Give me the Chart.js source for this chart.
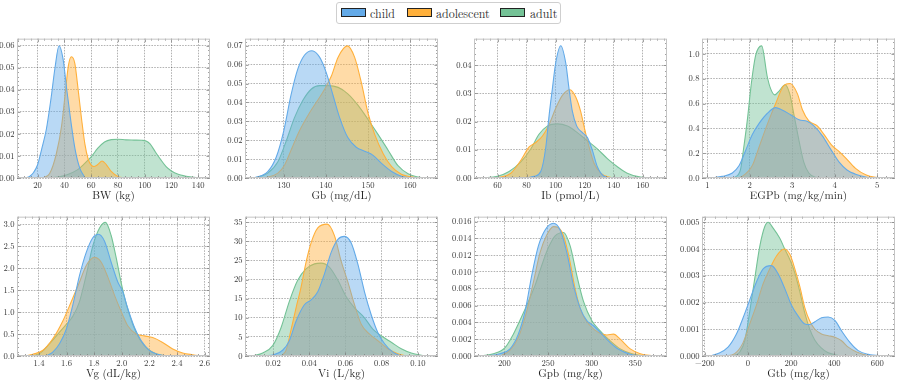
<!DOCTYPE html>
<html><head><meta charset="utf-8">
<script src="https://cdn.jsdelivr.net/npm/chart.js@4"></script>
<style>
html,body{margin:0;padding:0;background:#fff;}
body{width:897px;height:380px;overflow:hidden;position:relative;font-family:"Latin Modern Roman","Liberation Serif",serif;}
canvas{position:absolute;}
#legend{position:absolute;left:336px;top:2px;width:223px;height:20px;border:1px solid #cfcfcf;border-radius:3px;background:#fff;}
.patch{position:absolute;top:5px;width:23px;height:7px;border:1.3px solid #222;}
.lab{position:absolute;top:2px;font-size:12px;line-height:15px;color:#333;}
</style></head><body>
<div id="legend"></div>
<script>
// ---------- groups ----------
const GROUPS = ['child', 'adolescent', 'adult'];

// ---------- BW (kg) ----------
const BW_x_child = [11, 14, 17, 20, 23, 26.5, 30, 33, 36, 39, 42, 45, 48, 51.5, 55];
const BW_y_child = [0, 0.0007, 0.0025, 0.006, 0.013, 0.022, 0.036, 0.050, 0.060, 0.054, 0.039, 0.025, 0.013, 0.0045, 0.0006];
const BW_x_adol = [24, 29, 34, 38, 40.5, 43, 45.3, 47.8, 50.3, 52.8, 55.3, 57.8, 60, 62, 64.7, 68.2, 71.4, 75, 80, 85];
const BW_y_adol = [0, 0.002, 0.011, 0.024, 0.0375, 0.051, 0.055, 0.052, 0.040, 0.027, 0.0155, 0.0085, 0.0058, 0.0052, 0.006, 0.0077, 0.006, 0.003, 0.0007, 0];
const BW_x_adult = [27, 35, 42, 50, 55, 60, 65, 70, 75, 80, 86, 92, 98, 101, 104, 108, 112, 116, 120, 125, 130, 135, 142];
const BW_y_adult = [0, 0.0004, 0.0015, 0.0038, 0.0065, 0.0096, 0.0135, 0.0163, 0.0174, 0.0176, 0.0173, 0.0172, 0.0171, 0.0168, 0.0155, 0.0118, 0.0083, 0.0052, 0.0032, 0.0017, 0.0009, 0.0004, 0];
const BW_xticks = [20, 40, 60, 80, 100, 120, 140];
const BW_xlabels = ['20', '40', '60', '80', '100', '120', '140'];
const BW_yticks = [0, 0.01, 0.02, 0.03, 0.04, 0.05, 0.06];
const BW_ylabels = ['0.00', '0.01', '0.02', '0.03', '0.04', '0.05', '0.06'];

// ---------- Gb (mg/dL) ----------
const Gb_x_child = [122.9, 126.2, 128.2, 130, 131.7, 133.3, 134.9, 136.7, 138.5, 140.1, 141.7, 143.3, 145.2, 147.2, 149.2, 151.2, 153.2, 155.6, 157.9, 160.3];
const Gb_y_child = [0, 0.0034, 0.011, 0.025, 0.0437, 0.0575, 0.065, 0.0674, 0.064, 0.0557, 0.0437, 0.0317, 0.0214, 0.0163, 0.0142, 0.012, 0.0077, 0.0034, 0.0009, 0];
const Gb_x_adol = [125.4, 128.6, 130.2, 131.7, 133.7, 135.7, 137.7, 139.7, 141.3, 142.9, 145.1, 146.8, 148.4, 150, 151.6, 153.6, 155.6, 157.9, 161.1, 163.1];
const Gb_y_adol = [0, 0.0026, 0.0069, 0.0146, 0.0249, 0.033, 0.040, 0.047, 0.054, 0.064, 0.070, 0.064, 0.0506, 0.0343, 0.023, 0.0129, 0.006, 0.002, 0.0003, 0];
const Gb_x_adult = [123, 126.2, 128.6, 130.6, 132.5, 134.5, 136.5, 138.5, 140.5, 142.9, 145.2, 147.6, 150, 152.4, 154.8, 157.1, 159.5, 161.9, 164.3];
const Gb_y_adult = [0, 0.0026, 0.0086, 0.0197, 0.0317, 0.041, 0.047, 0.0489, 0.0489, 0.048, 0.0446, 0.0386, 0.031, 0.023, 0.0146, 0.0065, 0.0022, 0.0005, 0];
const Gb_xticks = [130, 140, 150, 160];
const Gb_xlabels = ['130', '140', '150', '160'];
const Gb_yticks = [0, 0.01, 0.02, 0.03, 0.04, 0.05, 0.06, 0.07];
const Gb_ylabels = ['0.00', '0.01', '0.02', '0.03', '0.04', '0.05', '0.06', '0.07'];

// ---------- Ib (pmol/L) ----------
const Ib_x_child = [79.5, 85.2, 89.8, 93.3, 95.6, 97.8, 100.1, 103.6, 107, 109.3, 111.6, 114.6, 118.5, 121.9, 125.4, 128.8, 133.4, 138];
const Ib_y_child = [0, 0.0006, 0.0023, 0.011, 0.0224, 0.0316, 0.0408, 0.0469, 0.0408, 0.0316, 0.0236, 0.0184, 0.0161, 0.0144, 0.0098, 0.004, 0.0006, 0];
const Ib_x_adol = [60, 69.2, 76.1, 81.8, 86.4, 91, 95.6, 100.1, 104.7, 110, 113.9, 117.3, 119.6, 123.1, 126.5, 131.1, 136.8, 142.6];
const Ib_y_adol = [0, 0.0017, 0.0063, 0.011, 0.0126, 0.0149, 0.019, 0.0247, 0.0293, 0.0313, 0.0287, 0.0236, 0.0184, 0.011, 0.0052, 0.0017, 0.0003, 0];
const Ib_x_adult = [49.7, 60, 68, 76.1, 82.9, 88.6, 94.3, 101.3, 108.2, 115, 121.9, 128.8, 135.7, 142.6, 149.4, 158.6, 170];
const Ib_y_adult = [0, 0.0006, 0.0023, 0.0057, 0.0103, 0.0155, 0.0184, 0.0192, 0.0184, 0.0161, 0.0132, 0.0103, 0.0069, 0.004, 0.0017, 0.0003, 0];
const Ib_xticks = [60, 80, 100, 120, 140, 160];
const Ib_xlabels = ['60', '80', '100', '120', '140', '160'];
const Ib_yticks = [0, 0.01, 0.02, 0.03, 0.04];
const Ib_ylabels = ['0.00', '0.01', '0.02', '0.03', '0.04'];

// ---------- EGPb (mg/kg/min) ----------
const EGPb_x_child = [1.08, 1.35, 1.59, 1.75, 1.9, 2.06, 2.22, 2.41, 2.61, 2.76, 2.96, 3.16, 3.35, 3.51, 3.71, 3.9, 4.1, 4.29, 4.49, 4.73, 4.96];
const EGPb_y_child = [0, 0.013, 0.04, 0.1, 0.22, 0.35, 0.44, 0.52, 0.567, 0.548, 0.51, 0.47, 0.457, 0.42, 0.34, 0.235, 0.13, 0.065, 0.031, 0.008, 0];
const EGPb_x_adol = [1.65, 1.82, 2.06, 2.22, 2.41, 2.61, 2.8, 2.95, 3.12, 3.24, 3.39, 3.59, 3.75, 3.94, 4.1, 4.25, 4.49, 4.73, 4.96, 5.15];
const EGPb_y_adol = [0, 0.013, 0.1, 0.25, 0.43, 0.6, 0.744, 0.762, 0.68, 0.55, 0.46, 0.42, 0.35, 0.26, 0.215, 0.165, 0.078, 0.026, 0.005, 0];
const EGPb_x_adult = [1.63, 1.78, 1.86, 1.94, 2.04, 2.14, 2.28, 2.41, 2.49, 2.59, 2.70, 2.83, 2.94, 3.04, 3.16, 3.27, 3.39, 3.55, 3.7];
const EGPb_y_adult = [0, 0.065, 0.25, 0.46, 0.77, 0.99, 1.065, 0.82, 0.72, 0.67, 0.705, 0.752, 0.68, 0.51, 0.30, 0.13, 0.04, 0.005, 0];
const EGPb_xticks = [1, 2, 3, 4, 5];
const EGPb_xlabels = ['1', '2', '3', '4', '5'];
const EGPb_yticks = [0, 0.2, 0.4, 0.6, 0.8, 1.0];
const EGPb_ylabels = ['0.0', '0.2', '0.4', '0.6', '0.8', '1.0'];

// ---------- Vg (dL/kg) ----------
const Vg_x_child = [1.453, 1.5, 1.549, 1.598, 1.646, 1.694, 1.742, 1.79, 1.831, 1.875, 1.923, 1.971, 2.007, 2.043, 2.092, 2.14, 2.2, 2.26, 2.32];
const Vg_y_child = [0, 0.09, 0.28, 0.61, 1.17, 1.84, 2.36, 2.7, 2.78, 2.62, 2.14, 1.69, 1.47, 1.09, 0.65, 0.35, 0.13, 0.04, 0];
const Vg_x_adol = [1.296, 1.357, 1.429, 1.5, 1.573, 1.634, 1.694, 1.742, 1.802, 1.851, 1.899, 1.947, 1.995, 2.043, 2.104, 2.164, 2.224, 2.296, 2.369, 2.441, 2.513, 2.586];
const Vg_y_adol = [0, 0.04, 0.13, 0.39, 0.8, 1.24, 1.69, 2.06, 2.25, 2.14, 1.8, 1.39, 1.02, 0.69, 0.5, 0.46, 0.42, 0.31, 0.16, 0.07, 0.03, 0];
const Vg_x_adult = [1.31, 1.4, 1.477, 1.537, 1.598, 1.646, 1.694, 1.742, 1.79, 1.839, 1.882, 1.923, 1.959, 1.995, 2.031, 2.08, 2.128, 2.188, 2.248, 2.32];
const Vg_y_adult = [0, 0.05, 0.28, 0.5, 0.72, 0.91, 1.24, 1.84, 2.51, 2.92, 3.05, 2.75, 2.25, 1.68, 1.2, 0.72, 0.39, 0.16, 0.05, 0];
const Vg_xticks = [1.4, 1.6, 1.8, 2.0, 2.2, 2.4, 2.6];
const Vg_xlabels = ['1.4', '1.6', '1.8', '2.0', '2.2', '2.4', '2.6'];
const Vg_yticks = [0, 0.5, 1.0, 1.5, 2.0, 2.5, 3.0];
const Vg_ylabels = ['0.0', '0.5', '1.0', '1.5', '2.0', '2.5', '3.0'];

// ---------- Vi (L/kg) ----------
const Vi_x_child = [0.0152, 0.0207, 0.0253, 0.029, 0.0327, 0.0373, 0.041, 0.0447, 0.0484, 0.0521, 0.0558, 0.0594, 0.0631, 0.0668, 0.0705, 0.0742, 0.0779, 0.0816, 0.0862, 0.0908];
const Vi_y_child = [0, 0.4, 1.5, 4, 9.1, 13.4, 14.7, 16.8, 21.5, 27.1, 30.5, 31.3, 29.6, 24.1, 16.8, 10.8, 6.1, 3.2, 1.0, 0];
const Vi_x_adol = [0.0244, 0.0272, 0.03, 0.0327, 0.0355, 0.0382, 0.041, 0.0447, 0.0499, 0.0539, 0.0576, 0.0613, 0.065, 0.0687, 0.0733, 0.0779, 0.0834, 0.0889, 0.0935];
const Vi_y_adol = [0, 1.5, 7.0, 12.6, 18.1, 24.5, 29.6, 33.5, 34.5, 31.5, 24.8, 19.4, 13.4, 8.3, 5.7, 4.0, 1.9, 0.6, 0];
const Vi_x_adult = [0.0088, 0.0143, 0.0198, 0.0244, 0.029, 0.0336, 0.0382, 0.0429, 0.0465, 0.0512, 0.0558, 0.0604, 0.065, 0.0705, 0.0751, 0.0797, 0.0853, 0.0908, 0.0963, 0.1037];
const Vi_y_adult = [0, 0.8, 2.7, 7.4, 14.3, 19.8, 22.8, 24.1, 24.3, 23.2, 19.8, 15.5, 12.6, 10, 7.0, 5.3, 3.6, 1.9, 0.8, 0];
const Vi_xticks = [0.02, 0.04, 0.06, 0.08, 0.10];
const Vi_xlabels = ['0.02', '0.04', '0.06', '0.08', '0.10'];
const Vi_yticks = [0, 5, 10, 15, 20, 25, 30, 35];
const Vi_ylabels = ['0', '5', '10', '15', '20', '25', '30', '35'];

// ---------- Gpb (mg/kg) ----------
const Gpb_x_child = [177.8, 195, 206.5, 216, 223.7, 231.4, 239, 246.7, 256.3, 263.9, 271.6, 279.2, 286.9, 294.5, 302.2, 311.7, 321.3, 330.9, 344.3, 355.8];
const Gpb_y_child = [0, 0.00027, 0.00085, 0.0026, 0.0053, 0.0096, 0.0131, 0.015, 0.0158, 0.015, 0.0123, 0.0084, 0.0057, 0.0042, 0.0036, 0.0026, 0.0016, 0.0008, 0.0002, 0];
const Gpb_x_adol = [195, 206.5, 216, 225.6, 233.3, 240.9, 248.6, 256.3, 265.8, 273.5, 281.1, 288.8, 298.4, 307.9, 317.5, 325.1, 332.8, 344.3, 355.8, 371];
const Gpb_y_adol = [0, 0.0007, 0.0022, 0.0053, 0.0088, 0.0123, 0.0144, 0.0154, 0.0148, 0.0121, 0.008, 0.0051, 0.0036, 0.0028, 0.0025, 0.0026, 0.002, 0.00085, 0.00027, 0];
const Gpb_x_adult = [174, 187.4, 200.8, 210.3, 219.9, 227.6, 235.2, 242.9, 250.5, 258.2, 267.7, 275.4, 283, 290.7, 300.3, 309.8, 321.3, 332.8, 346.2, 359.6];
const Gpb_y_adult = [0, 0.00027, 0.001, 0.0026, 0.0047, 0.0065, 0.0084, 0.0108, 0.0129, 0.0143, 0.0147, 0.0131, 0.0096, 0.0065, 0.0042, 0.003, 0.0018, 0.00085, 0.00027, 0];
const Gpb_xticks = [200, 250, 300, 350];
const Gpb_xlabels = ['200', '250', '300', '350'];
const Gpb_yticks = [0, 0.002, 0.004, 0.006, 0.008, 0.010, 0.012, 0.014, 0.016];
const Gpb_ylabels = ['0.000', '0.002', '0.004', '0.006', '0.008', '0.010', '0.012', '0.014', '0.016'];

// ---------- Gtb (mg/kg) ----------
const Gtb_x_child = [-176.8, -138, -91.7, -53, -22, 8.9, 39.8, 70.8, 109.5, 140.4, 171.3, 202.3, 233.2, 264.2, 287.4, 310.6, 341.5, 372.5, 403.4, 434.4, 473, 511.7, 558.2, 635.5];
const Gtb_y_child = [0, 0.00009, 0.00033, 0.00082, 0.00143, 0.0021, 0.00277, 0.00326, 0.00338, 0.00307, 0.00252, 0.0019, 0.00149, 0.0012, 0.00118, 0.00128, 0.00143, 0.00146, 0.00133, 0.00094, 0.00051, 0.0002, 0.00006, 0];
const Gtb_x_adol = [-107, -60.7, -22, 8.9, 39.8, 70.8, 101.7, 132.7, 168.3, 194.6, 217.8, 241, 264.2, 287.4, 310.6, 341.5, 372.5, 403.4, 434.4, 465.3, 504, 558, 589];
const Gtb_y_adol = [0, 0.00009, 0.0005, 0.0012, 0.0019, 0.0027, 0.00326, 0.00374, 0.004, 0.0038, 0.00326, 0.00259, 0.0018, 0.0013, 0.001, 0.00082, 0.00076, 0.0007, 0.00057, 0.00033, 0.00015, 0.00002, 0];
const Gtb_x_adult = [-68.5, -37.5, -14.3, 8.9, 32, 55.3, 78.5, 94, 117.2, 148.1, 171, 195, 218, 241, 264, 287, 310, 340, 370, 410, 450];
const Gtb_y_adult = [0, 0.00015, 0.00057, 0.00167, 0.0029, 0.0041, 0.00484, 0.005, 0.00478, 0.0044, 0.0040, 0.0036, 0.0031, 0.0024, 0.0016, 0.0010, 0.0006, 0.0003, 0.00013, 0.00004, 0];
const Gtb_xticks = [-200, 0, 200, 400, 600];
const Gtb_xlabels = ['\u2212200', '0', '200', '400', '600'];
const Gtb_yticks = [0, 0.001, 0.002, 0.003, 0.004, 0.005];
const Gtb_ylabels = ['0.000', '0.001', '0.002', '0.003', '0.004', '0.005'];

// ---------- styling / layout ----------
const COLORS = ['rgb(99,170,232)', 'rgb(255,176,59)', 'rgb(116,194,150)'];
const FILLS = ['rgba(99,170,232,0.45)', 'rgba(255,176,59,0.45)', 'rgba(116,194,150,0.45)'];
const FONT = '"Latin Modern Roman", "Liberation Serif", serif';
const COL_LEFT = [17, 245, 474, 702];
const ROW_TOP = [35, 213];
const PW = 193, PH = 143, YW = 30, XH = 24, PADT = 4, PADR = 5;

const PANELS = [
  {title: 'BW (kg)', col: 0, row: 0, xlim: [4.6, 148.8], ylim: [0, 0.0632], xt: BW_xticks, xl: BW_xlabels, yt: BW_yticks, yl: BW_ylabels,
   series: [[BW_x_child, BW_y_child], [BW_x_adol, BW_y_adol], [BW_x_adult, BW_y_adult]]},
  {title: 'Gb (mg/dL)', col: 1, row: 0, xlim: [120.8, 166.6], ylim: [0, 0.0738], xt: Gb_xticks, xl: Gb_xlabels, yt: Gb_yticks, yl: Gb_ylabels,
   series: [[Gb_x_child, Gb_y_child], [Gb_x_adol, Gb_y_adol], [Gb_x_adult, Gb_y_adult]]},
  {title: 'Ib (pmol/L)', col: 2, row: 0, xlim: [43.8, 176.8], ylim: [0, 0.0494], xt: Ib_xticks, xl: Ib_xlabels, yt: Ib_yticks, yl: Ib_ylabels,
   series: [[Ib_x_child, Ib_y_child], [Ib_x_adol, Ib_y_adol], [Ib_x_adult, Ib_y_adult]]},
  {title: 'EGPb (mg/kg/min)', col: 3, row: 0, xlim: [0.875, 5.42], ylim: [0, 1.123], xt: EGPb_xticks, xl: EGPb_xlabels, yt: EGPb_yticks, yl: EGPb_ylabels,
   series: [[EGPb_x_child, EGPb_y_child], [EGPb_x_adol, EGPb_y_adol], [EGPb_x_adult, EGPb_y_adult]]},
  {title: 'Vg (dL/kg)', col: 0, row: 1, xlim: [1.241, 2.639], ylim: [0, 3.18], xt: Vg_xticks, xl: Vg_xlabels, yt: Vg_yticks, yl: Vg_ylabels,
   series: [[Vg_x_child, Vg_y_child], [Vg_x_adol, Vg_y_adol], [Vg_x_adult, Vg_y_adult]]},
  {title: 'Vi (L/kg)', col: 1, row: 1, xlim: [0.0045, 0.1111], ylim: [0, 36.45], xt: Vi_xticks, xl: Vi_xlabels, yt: Vi_yticks, yl: Vi_ylabels,
   series: [[Vi_x_child, Vi_y_child], [Vi_x_adol, Vi_y_adol], [Vi_x_adult, Vi_y_adult]]},
  {title: 'Gpb (mg/kg)', col: 2, row: 1, xlim: [165.2, 386.4], ylim: [0, 0.01658], xt: Gpb_xticks, xl: Gpb_xlabels, yt: Gpb_yticks, yl: Gpb_ylabels,
   series: [[Gpb_x_child, Gpb_y_child], [Gpb_x_adol, Gpb_y_adol], [Gpb_x_adult, Gpb_y_adult]]},
  {title: 'Gtb (mg/kg)', col: 3, row: 1, xlim: [-212.5, 682], ylim: [0, 0.00521], xt: Gtb_xticks, xl: Gtb_xlabels, yt: Gtb_yticks, yl: Gtb_ylabels,
   series: [[Gtb_x_child, Gtb_y_child], [Gtb_x_adol, Gtb_y_adol], [Gtb_x_adult, Gtb_y_adult]]}
];

// frame (spines) + inward major/minor ticks on all four sides
const framePlugin = {
  id: 'frame',
  afterDatasetsDraw(chart) {
    const {ctx, chartArea: a, scales} = chart;
    ctx.save();
    ctx.strokeStyle = '#7a7a7a';
    ctx.lineWidth = 0.7;
    const doScale = (scale, horiz) => {
      const vals = scale.ticks.map(t => t.value);
      const step = vals[1] - vals[0];
      const e = Math.floor(Math.log10(step) + 1e-9);
      const m = Math.round(step / Math.pow(10, e));
      const nd = (m === 1 || m === 5 || m === 10) ? 5 : 4;
      const minor = step / nd;
      const k0 = Math.ceil((scale.min - vals[0]) / minor - 1e-6);
      for (let k = k0; k < 1000; k++) {
        const v = vals[0] + k * minor;
        if (v > scale.max + minor * 1e-3) break;
        const major = (((k % nd) + nd) % nd) === 0;
        const len = major ? 3.5 : 2;
        const p = Math.round(scale.getPixelForValue(v)) + 0.5;
        ctx.beginPath();
        if (horiz) {
          ctx.moveTo(p, a.bottom); ctx.lineTo(p, a.bottom - len);
          ctx.moveTo(p, a.top); ctx.lineTo(p, a.top + len);
        } else {
          ctx.moveTo(a.left, p); ctx.lineTo(a.left + len, p);
          ctx.moveTo(a.right, p); ctx.lineTo(a.right - len, p);
        }
        ctx.stroke();
      }
    };
    doScale(scales.x, true);
    doScale(scales.y, false);
    ctx.strokeStyle = '#c4c4c4';
    ctx.lineWidth = 1;
    ctx.strokeRect(a.left + 0.5, a.top + 0.5, a.right - a.left - 1, a.bottom - a.top - 1);
    ctx.restore();
  }
};

function axisCommon(ticksArr, labelsArr) {
  return {
    type: 'linear',
    afterBuildTicks: s => { s.ticks = ticksArr.map(v => ({value: v})); },
    ticks: {
      callback: (v, i) => labelsArr[i],
      font: {family: FONT, size: 8.6},
      color: '#333',
      autoSkip: false,
      maxRotation: 0,
      includeBounds: false
    },
    grid: {color: 'rgba(0,0,0,0.6)', lineWidth: 0.5, drawTicks: false},
    border: {display: false, dash: [1.6, 1.2]}
  };
}

PANELS.forEach(p => {
  const cv = document.createElement('canvas');
  const L = COL_LEFT[p.col], T = ROW_TOP[p.row];
  cv.width = YW + PW + PADR;
  cv.height = PADT + PH + XH;
  cv.style.left = (L - YW) + 'px';
  cv.style.top = (T - PADT) + 'px';
  cv.style.width = cv.width + 'px';
  cv.style.height = cv.height + 'px';
  document.body.appendChild(cv);

  const xs = axisCommon(p.xt, p.xl);
  xs.min = p.xlim[0]; xs.max = p.xlim[1];
  xs.afterFit = s => { s.height = XH; };
  xs.ticks.padding = 2;
  xs.title = {display: true, text: p.title, font: {family: FONT, size: 11}, color: '#222', padding: {top: 0, bottom: 0}};

  const ys = axisCommon(p.yt, p.yl);
  ys.min = p.ylim[0]; ys.max = p.ylim[1];
  ys.afterFit = s => { s.width = YW; };
  ys.ticks.padding = 2.5;

  new Chart(cv, {
    type: 'line',
    data: {
      datasets: p.series.map((s, i) => ({
        label: GROUPS[i],
        data: s[0].map((x, j) => ({x: x, y: s[1][j]})),
        borderColor: COLORS[i],
        backgroundColor: FILLS[i],
        borderWidth: 1.1,
        pointRadius: 0,
        fill: 'origin',
        cubicInterpolationMode: 'monotone'
      }))
    },
    options: {
      responsive: false,
      animation: false,
      devicePixelRatio: 1,
      layout: {padding: {top: PADT, right: PADR, left: 0, bottom: 0}, autoPadding: false},
      plugins: {legend: {display: false}, tooltip: {enabled: false}},
      scales: {x: xs, y: ys}
    },
    plugins: [framePlugin]
  });
});

// shared legend
const leg = document.getElementById('legend');
const PATCH_LEFT = [4, 70, 163];
const TEXT_LEFT = [33, 99, 193];
GROUPS.forEach((g, i) => {
  const pt = document.createElement('div');
  pt.className = 'patch';
  pt.style.left = PATCH_LEFT[i] + 'px';
  pt.style.background = COLORS[i];
  leg.appendChild(pt);
  const t = document.createElement('div');
  t.className = 'lab';
  t.style.left = TEXT_LEFT[i] + 'px';
  t.textContent = g;
  leg.appendChild(t);
});
</script>
</body></html>
